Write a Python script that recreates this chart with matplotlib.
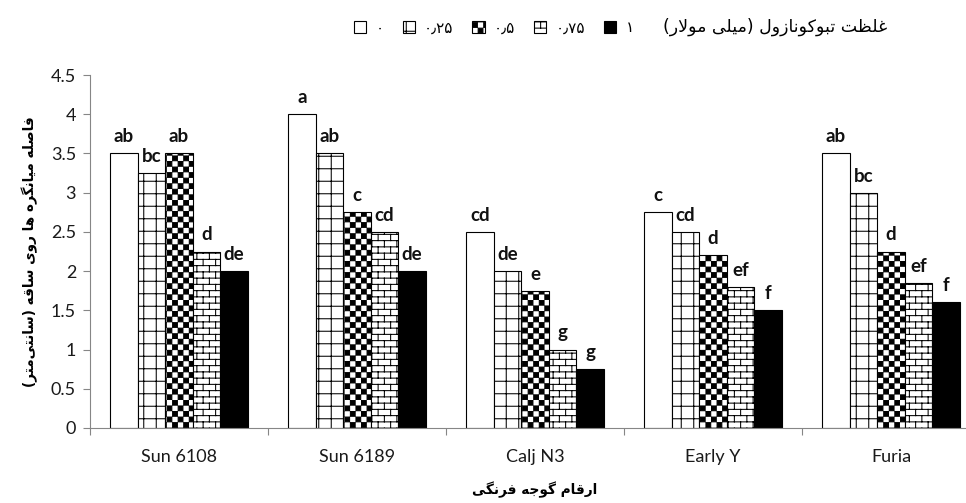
import numpy as np
import matplotlib
matplotlib.use('Agg')
import matplotlib.pyplot as plt
import matplotlib.hatch as mhatch
from matplotlib.path import Path
from matplotlib.ticker import FuncFormatter

# data
cultivars = ['Sun 6108', 'Sun 6189', 'Calj N3', 'Early Y', 'Furia']
doses = ['۰', '۰٫۲۵', '۰٫۵', '۰٫۷۵', '۱']
dose_0 = [3.5, 4.0, 2.5, 2.75, 3.5]
dose_025 = [3.25, 3.5, 2.0, 2.5, 3.0]
dose_05 = [3.5, 2.75, 1.75, 2.2, 2.25]
dose_075 = [2.25, 2.5, 1.0, 1.8, 1.85]
dose_1 = [2.0, 2.0, 0.75, 1.5, 1.6]
letters_0 = ['ab', 'a', 'cd', 'c', 'ab']
letters_025 = ['bc', 'ab', 'de', 'cd', 'bc']
letters_05 = ['ab', 'c', 'e', 'd', 'd']
letters_075 = ['d', 'cd', 'g', 'ef', 'ef']
letters_1 = ['de', 'de', 'g', 'f', 'f']

legend_title = 'غلظت تبوکونازول (میلی مولار)'
y_title = 'فاصله میانگره ها روی ساقه (سانتی\u200cمتر)'
x_title = 'ارقام گوجه فرنگی'


# --- minimal Persian shaping (matplotlib has no RTL / joining support) ---
FORMS = {
    'ا': ('\uFE8D', '\uFE8E', None, None),
    'ب': ('\uFE8F', '\uFE90', '\uFE91', '\uFE92'),
    'ت': ('\uFE95', '\uFE96', '\uFE97', '\uFE98'),
    'ج': ('\uFE9D', '\uFE9E', '\uFE9F', '\uFEA0'),
    'ر': ('\uFEAD', '\uFEAE', None, None),
    'ز': ('\uFEAF', '\uFEB0', None, None),
    'س': ('\uFEB1', '\uFEB2', '\uFEB3', '\uFEB4'),
    'ص': ('\uFEB9', '\uFEBA', '\uFEBB', '\uFEBC'),
    'ظ': ('\uFEC5', '\uFEC6', '\uFEC7', '\uFEC8'),
    'غ': ('\uFECD', '\uFECE', '\uFECF', '\uFED0'),
    'ف': ('\uFED1', '\uFED2', '\uFED3', '\uFED4'),
    'ق': ('\uFED5', '\uFED6', '\uFED7', '\uFED8'),
    'ل': ('\uFEDD', '\uFEDE', '\uFEDF', '\uFEE0'),
    'م': ('\uFEE1', '\uFEE2', '\uFEE3', '\uFEE4'),
    'ن': ('\uFEE5', '\uFEE6', '\uFEE7', '\uFEE8'),
    'ه': ('\uFEE9', '\uFEEA', '\uFEEB', '\uFEEC'),
    'و': ('\uFEED', '\uFEEE', None, None),
    'ک': ('\uFB8E', '\uFB8F', '\uFB90', '\uFB91'),
    'گ': ('\uFB92', '\uFB93', '\uFB94', '\uFB95'),
    'ی': ('\uFBFC', '\uFBFD', '\uFBFE', '\uFBFF'),
}


def joins_forward(c):
    return c in FORMS and FORMS[c][2] is not None


def fa(text):
    out = []
    i = 0
    while i < len(text):
        c = text[i]
        if c not in FORMS:
            if c != '\u200c':
                out.append(c)
            i += 1
            continue
        link_prev = i > 0 and joins_forward(text[i - 1])
        if c == 'ل' and i + 1 < len(text) and text[i + 1] == 'ا':
            out.append('\uFEFC' if link_prev else '\uFEFB')
            i += 2
            continue
        nxt = text[i + 1] if i + 1 < len(text) else ''
        link_next = joins_forward(c) and nxt in FORMS
        iso, fin, ini, med = FORMS[c]
        if link_prev and link_next:
            out.append(med)
        elif link_prev:
            out.append(fin)
        elif link_next:
            out.append(ini)
        else:
            out.append(iso)
        i += 1
    mirror = {'(': ')', ')': '('}
    return ''.join(mirror.get(c, c) for c in reversed(out))


# --- Excel-like fill patterns as hatches ('*' grid, 'o' checker, 'O' brick) ---
class GridHatch(mhatch.HatchPatternBase):
    def __init__(self, hatch, density):
        self.n = 8 if '*' in hatch else 0
        self.num_vertices = self.n * 4

    def set_vertices_and_codes(self, vertices, codes):
        for k in range(self.n):
            s = (k + 0.5) / self.n
            vertices[4 * k:4 * k + 4] = [[0, s], [1, s], [s, 0], [s, 1]]
            codes[4 * k:4 * k + 4] = [Path.MOVETO, Path.LINETO, Path.MOVETO, Path.LINETO]


class CheckerHatch(mhatch.HatchPatternBase):
    def __init__(self, hatch, density):
        self.n = 9 if 'o' in hatch else 0
        self.num_vertices = self.n * self.n * 2 * 5

    def set_vertices_and_codes(self, vertices, codes):
        h = 0.5 / self.n
        e = 0.004
        sq = np.array([[e, e], [h - e, e], [h - e, h - e], [e, h - e], [e, e]])
        cd = [Path.MOVETO, Path.LINETO, Path.LINETO, Path.LINETO, Path.CLOSEPOLY]
        pos = 0
        for i in range(self.n):
            for j in range(self.n):
                for dx, dy in ((0, 0), (h, h)):
                    vertices[pos:pos + 5] = sq + [i / self.n + dx, j / self.n + dy]
                    codes[pos:pos + 5] = cd
                    pos += 5


class BrickHatch(mhatch.HatchPatternBase):
    def __init__(self, hatch, density):
        self.n = 8 if 'O' in hatch else 0
        rows = 2 * self.n
        self.num_vertices = rows * 2 + (rows + 1) * self.n * 2 if self.n else 0

    def set_vertices_and_codes(self, vertices, codes):
        n = self.n
        rows = 2 * n
        pos = 0
        for r in range(rows):
            y = (r + 0.5) / rows
            vertices[pos:pos + 2] = [[0, y], [1, y]]
            codes[pos:pos + 2] = [Path.MOVETO, Path.LINETO]
            pos += 2
        for r in range(rows + 1):
            y0, y1 = (r - 0.5) / rows, (r + 0.5) / rows
            for i in range(n):
                xv = (i + 0.25 + 0.5 * (r % 2)) / n
                vertices[pos:pos + 2] = [[xv, y0], [xv, y1]]
                codes[pos:pos + 2] = [Path.MOVETO, Path.LINETO]
                pos += 2


mhatch._hatch_types = [t for t in mhatch._hatch_types
                       if t not in (mhatch.SmallCircles, mhatch.LargeCircles, mhatch.Stars)]
mhatch._hatch_types += [GridHatch, CheckerHatch, BrickHatch]

plt.rcParams['font.family'] = ['Lato', 'DejaVu Sans']
plt.rcParams['hatch.linewidth'] = 0.75
plt.rcParams['hatch.color'] = 'black'

series = [dose_0, dose_025, dose_05, dose_075, dose_1]
letters = [letters_0, letters_025, letters_05, letters_075, letters_1]
hatches = ['', '*', 'o', 'O', '']
faces = ['white', 'white', 'white', 'white', 'black']

fig = plt.figure(figsize=(9.66, 5.03), dpi=100)
ax = fig.add_axes([90 / 966, 75 / 503, 890 / 966, 353 / 503])

x = np.arange(len(cultivars))
width = 0.1545
containers = []
for k, (vals, labs) in enumerate(zip(series, letters)):
    bars = ax.bar(x + (k - 2) * width, vals, width, color=faces[k], edgecolor='black',
                  hatch=hatches[k], linewidth=0.8, zorder=2)
    containers.append(bars)
    for b, lab in zip(bars, labs):
        ax.annotate(lab, (b.get_x() + b.get_width() / 2, b.get_height()),
                    xytext=(0, 8), textcoords='offset points', ha='center',
                    va='baseline', fontsize=13.5, fontweight='bold', color='#111111')

ax.set_xlim(-0.5, 4.5)
ax.set_ylim(0, 4.5)
ax.set_yticks(np.arange(0, 4.51, 0.5))
ax.yaxis.set_major_formatter(FuncFormatter(lambda v, p: f'{v:g}'))
ax.set_xticks(x)
ax.set_xticklabels(cultivars)
ax.set_xticks(np.arange(-0.5, 5, 1), minor=True)
ax.tick_params(axis='x', which='major', length=0, pad=15, labelsize=13, labelcolor='#1a1a1a')
ax.tick_params(axis='x', which='minor', length=5, width=0.8, color='#868686')
ax.tick_params(axis='y', length=5, width=0.8, color='#868686', labelsize=13,
               labelcolor='#1a1a1a', pad=5)
for side in ('top', 'right'):
    ax.spines[side].set_visible(False)
for side in ('left', 'bottom'):
    ax.spines[side].set_color('#868686')
    ax.spines[side].set_linewidth(0.8)

ax.set_ylabel(fa(y_title), family='DejaVu Sans', fontweight='bold', fontsize=9.8, labelpad=9)
ax.set_xlabel(fa(x_title), family='DejaVu Sans', fontweight='bold', fontsize=9.8, labelpad=12)

fig.legend(containers, doses, loc='center left', bbox_to_anchor=(354 / 966, 1 - 28 / 503),
           ncol=5, frameon=False, prop={'family': 'DejaVu Sans', 'size': 11},
           handlelength=0.8, handleheight=0.8, handletextpad=0.6, columnspacing=1.25,
           borderpad=0, borderaxespad=0)
fig.text(663 / 966, 1 - 27 / 503, fa(legend_title), family='DejaVu Sans', fontsize=12.5,
         ha='left', va='center')

fig.savefig('out.png', dpi=100, facecolor='white')
